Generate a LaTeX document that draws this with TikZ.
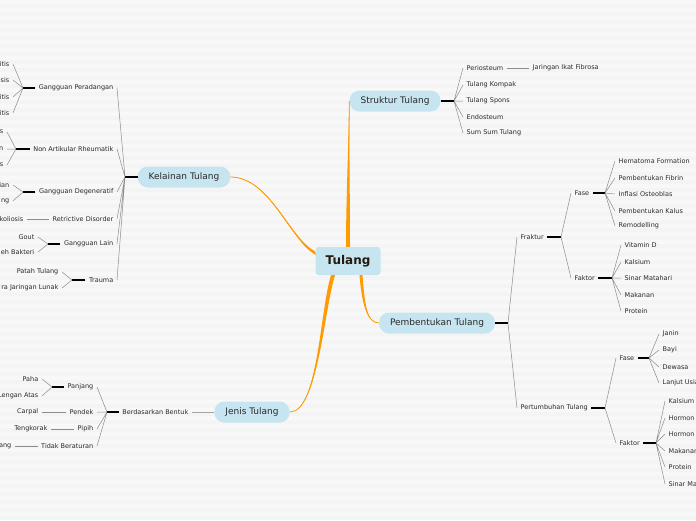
\documentclass[tikz,border=0pt]{standalone}
\usepackage{fontspec}
\setmainfont{DejaVu Sans}
\usetikzlibrary{calc, positioning}
\definecolor{pillblue}{HTML}{C6E5F1}
\definecolor{branchorange}{HTML}{FF9A00}
\definecolor{fangray}{HTML}{8C8C8C}
\definecolor{bggray}{HTML}{F4F4F4}
\definecolor{txtdark}{HTML}{2A2A2A}
\newcommand{\branch}[6]{%
	\fill[branchorange] ([shift={(-#5,-#6)}]#1) .. controls ([shift={(-#5,-#6)}]#2) and (#3) .. (#4)
		.. controls (#3) and ([shift={(#5,#6)}]#2) .. ([shift={(#5,#6)}]#1) -- cycle;
	\draw[branchorange,line width=0.8pt] (#1) .. controls (#2) and (#3) .. (#4);
}

\begin{document}
\begin{tikzpicture}[x=1pt,y=-1pt,
	topic/.style={fill=pillblue,rounded corners=10pt,minimum height=21pt,inner xsep=11pt,
		text=txtdark,font=\fontsize{9}{11}\selectfont},
	leaf/.style={text=txtdark,inner ysep=0pt,inner xsep=3.5pt,font=\fontsize{6.5}{8}\selectfont},
	lw/.style={leaf,anchor=west},
	le/.style={leaf,anchor=east},
	fan/.style={draw=fangray,line width=0.5pt},
	bar/.style={draw=black,line width=1.2pt}
]
	\useasboundingbox (0,0) rectangle (696,520);
	\clip (0,0) rectangle (696,520);
	\fill[bggray] (0,0) rectangle (696,520);
	\foreach \y in {0,8,...,512}
		\fill[white,opacity=0.4] (0,\y) rectangle (696,\y+4);

	\node[fill=pillblue,rounded corners=3pt,minimum width=65pt,minimum height=28pt,
		text=black!80!brown,font=\fontsize{12}{14}\bfseries] at (348,261) (tul) {Tulang};

	\node[topic] at (395,101) (struk) {Struktur Tulang};
	\node[topic] at (184,177) (kel) {Kelainan Tulang};
	\node[topic] at (437,323) (pem) {Pembentukan Tulang};
	\node[topic] at (252,412) (jen) {Jenis Tulang};

	\branch{tul.north}{348,200}{349,130}{struk.west}{2}{0}
	\branch{$(tul.west)+(0,-8)$}{290,240}{270,177}{kel.east}{0.6}{2}
	\branch{$(tul.south)+(13,0)$}{363,300}{366,323}{pem.west}{1.5}{0}
	\branch{$(tul.south)+(-15,0)$}{322,310}{318,412}{jen.east}{2}{0}

	% Struktur Tulang
	\coordinate (hs) at (454,101);
	\draw[bar] (struk.east) -- (hs);
	\node[lw] at (463,68) (s0) {Periosteum};
	\node[lw] at (463,85) (s1) {Tulang Kompak};
	\node[lw] at (463,101) (s2) {Tulang Spons};
	\node[lw] at (463,117) (s3) {Endosteum};
	\node[lw] at (463,133) (s4) {Sum Sum Tulang};
	\node[lw,right=22pt of s0] (s00) {Jaringan Ikat Fibrosa};
	\draw[fan] (hs) -- (s0.west) (hs) -- (s1.west) (hs) -- (s2.west) (hs) -- (s3.west) (hs) -- (s4.west);
	\draw[fan] (s0.east) -- (s00.west);

	% Kelainan Tulang
	\coordinate (hk) at (125,177);
	\draw[bar] (kel.west) -- (hk);
	\node[le] at (117,88) (k0) {Gangguan Peradangan};
	\node[le] at (117,149) (k1) {Non Artikular Rheumatik};
	\node[le] at (117,192) (k2) {Gangguan Degeneratif};
	\node[le] at (117,219) (k3) {Retrictive Disorder};
	\node[le] at (117,244) (k4) {Gangguan Lain};
	\node[le] at (117,280) (k5) {Trauma};
	\draw[fan] (hk) -- (k0.east) (hk) -- (k1.east) (hk) -- (k2.east) (hk) -- (k3.east)
		(hk) -- (k4.east) (hk) -- (k5.east);

	\coordinate (hk0) at (23,88);
	\draw[bar] (k0.west) -- (hk0);
	\node[le] at (13,64) (k00) {itis};
	\node[le] at (13,80) (k01) {osis};
	\node[le] at (13,97) (k02) {itis};
	\node[le] at (13,113) (k03) {itis};
	\draw[fan] (hk0) -- (k00.east) (hk0) -- (k01.east) (hk0) -- (k02.east) (hk0) -- (k03.east);

	\coordinate (hk1) at (16,149);
	\draw[bar] (k1.west) -- (hk1);
	\node[le] at (7,132) (k10) {s};
	\node[le] at (7,149) (k11) {n};
	\node[le] at (7,165) (k12) {s};
	\draw[fan] (hk1) -- (k10.east) (hk1) -- (k11.east) (hk1) -- (k12.east);

	\coordinate (hk2) at (23,192);
	\draw[bar] (k2.west) -- (hk2);
	\node[le] at (13,185) (k20) {lian};
	\node[le] at (13,201) (k21) {ng};
	\draw[fan] (hk2) -- (k20.east) (hk2) -- (k21.east);

	\node[le] at (27,219) (k30) {koliosis};
	\draw[fan] (k3.west) -- (k30.east);

	\coordinate (hk4) at (48,244);
	\draw[bar] (k4.west) -- (hk4);
	\node[le] at (38,237) (k40) {Gout};
	\node[le] at (38,252) (k41) {eh Bakteri};
	\draw[fan] (hk4) -- (k40.east) (hk4) -- (k41.east);

	\coordinate (hk5) at (72,280);
	\draw[bar] (k5.west) -- (hk5);
	\node[le] at (62,272) (k50) {Patah Tulang};
	\node[le] at (62,288) (k51) {ra Jaringan Lunak};
	\draw[fan] (hk5) -- (k50.east) (hk5) -- (k51.east);

	% Jenis Tulang
	\node[le] at (192,412) (bb) {Berdasarkan Bentuk};
	\draw[draw=gray!70,line width=0.9pt] (jen.west) -- (bb.east);
	\coordinate (hj) at (107,412);
	\draw[bar] (bb.west) -- (hj);
	\node[le] at (97,387) (j0) {Panjang};
	\node[le] at (97,412) (j1) {Pendek};
	\node[le] at (97,429) (j2) {Pipih};
	\node[le] at (97,446) (j3) {Tidak Beraturan};
	\draw[fan] (hj) -- (j0.east) (hj) -- (j1.east) (hj) -- (j2.east) (hj) -- (j3.east);

	\coordinate (hj0) at (52,387);
	\draw[bar] (j0.west) -- (hj0);
	\node[le] at (42,379) (j00) {Paha};
	\node[le] at (42,396) (j01) {Lengan Atas};
	\draw[fan] (hj0) -- (j00.east) (hj0) -- (j01.east);
	\node[le] at (42,412) (j10) {Carpal};
	\draw[fan] (j1.west) -- (j10.east);
	\node[le] at (51,429) (j20) {Tengkorak};
	\draw[fan] (j2.west) -- (j20.east);
	\node[le] at (15,446) (j30) {ang};
	\draw[fan] (j3.west) -- (j30.east);

	% Pembentukan Tulang
	\coordinate (hp) at (508,323);
	\draw[bar] (pem.east) -- (hp);
	\node[lw] at (517,237) (p0) {Fraktur};
	\node[lw] at (517,408) (p1) {Pertumbuhan Tulang};
	\draw[fan] (hp) -- (p0.west) (hp) -- (p1.west);

	\coordinate (hp0) at (561,237);
	\draw[bar] (p0.east) -- (hp0);
	\node[lw] at (571,193) (p00) {Fase};
	\node[lw] at (571,278) (p01) {Faktor};
	\draw[fan] (hp0) -- (p00.west) (hp0) -- (p01.west);

	\coordinate (hp00) at (605,193);
	\draw[bar] (p00.east) -- (hp00);
	\node[lw] at (615,161) (f0) {Hematoma Formation};
	\node[lw] at (615,178) (f1) {Pembentukan Fibrin};
	\node[lw] at (615,194) (f2) {Inflasi Osteoblas};
	\node[lw] at (615,211) (f3) {Pembentukan Kalus};
	\node[lw] at (615,226) (f4) {Remodelling};
	\draw[fan] (hp00) -- (f0.west) (hp00) -- (f1.west) (hp00) -- (f2.west) (hp00) -- (f3.west)
		(hp00) -- (f4.west);

	\coordinate (hp01) at (612,278);
	\draw[bar] (p01.east) -- (hp01);
	\node[lw] at (621,245) (g0) {Vitamin D};
	\node[lw] at (621,262) (g1) {Kalsium};
	\node[lw] at (621,278) (g2) {Sinar Matahari};
	\node[lw] at (621,295) (g3) {Makanan};
	\node[lw] at (621,311) (g4) {Protein};
	\draw[fan] (hp01) -- (g0.west) (hp01) -- (g1.west) (hp01) -- (g2.west) (hp01) -- (g3.west)
		(hp01) -- (g4.west);

	\coordinate (hp1) at (605,408);
	\draw[bar] (p1.east) -- (hp1);
	\node[lw] at (616,358) (p10) {Fase};
	\node[lw] at (616,443) (p11) {Faktor};
	\draw[fan] (hp1) -- (p10.west) (hp1) -- (p11.west);

	\coordinate (hp10) at (649,358);
	\draw[bar] (p10.east) -- (hp10);
	\node[lw] at (659,334) (u0) {Janin};
	\node[lw] at (659,350) (u1) {Bayi};
	\node[lw] at (659,367) (u2) {Dewasa};
	\node[lw] at (659,383) (u3) {Lanjut Usia};
	\draw[fan] (hp10) -- (u0.west) (hp10) -- (u1.west) (hp10) -- (u2.west) (hp10) -- (u3.west);

	\coordinate (hp11) at (656,443);
	\draw[bar] (p11.east) -- (hp11);
	\node[lw] at (665,401) (v0) {Kalsium};
	\node[lw] at (665,418) (v1) {Hormon};
	\node[lw] at (665,434) (v2) {Hormon};
	\node[lw] at (665,451) (v3) {Makanan};
	\node[lw] at (665,467) (v4) {Protein};
	\node[lw] at (665,484) (v5) {Sinar Matahari};
	\draw[fan] (hp11) -- (v0.west) (hp11) -- (v1.west) (hp11) -- (v2.west) (hp11) -- (v3.west)
		(hp11) -- (v4.west) (hp11) -- (v5.west);
\end{tikzpicture}
\end{document}
